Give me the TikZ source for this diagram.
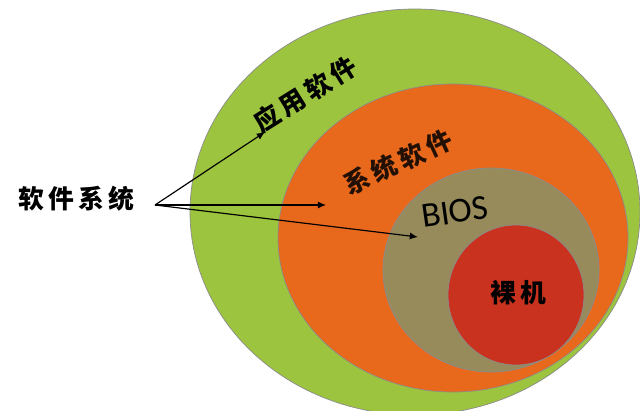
\documentclass[tikz,border=0pt]{standalone}
\usetikzlibrary{arrows.meta}
\usepackage{fontspec}
\newfontfamily\cjk{Noto Sans CJK SC}
\setmainfont{Carlito}
\definecolor{gr}{HTML}{9CC43E}
\definecolor{orn}{HTML}{E8681C}
\definecolor{olv}{HTML}{978B5C}
\definecolor{rd}{HTML}{C8321E}
\begin{document}
\begin{tikzpicture}[x=0.03cm,y=-0.03cm,
  ring/.style={draw=black!45,line width=0.6pt},
  lbl/.style={font=\cjk\fontsize{22}{24}\selectfont\bfseries},
  arr/.style={-{Latex[length=7pt,width=6pt]},line width=1pt}]
\useasboundingbox (0,0) rectangle (640,410);
\clip (0,0) rectangle (640,410);
\fill[white] (0,0) rectangle (640,410);
\draw[ring,fill=gr] (415,212) ellipse [x radius=225,y radius=203];
\draw[ring,fill=orn] (453,238) ellipse [x radius=175,y radius=154];
\draw[ring,fill=olv] (491,270) ellipse [x radius=108,y radius=102];
\draw[ring,fill=rd] (516,295) ellipse [x radius=68,y radius=70];
\node[lbl,rotate=32] (app) at (305,94) {应\,用\,软\,件};
\node[lbl,rotate=25,text=black!85!orn] (sys) at (398,162) {系\,统\,软\,件};
\node[font=\fontsize{30}{32}\selectfont,rotate=8] (bios) at (455,212) {BIOS};
\node[lbl] (bm) at (518,293) {裸\,机};
\node[lbl] (sw) at (76,199) {软\,件\,系\,统};
\coordinate (s) at (155,205);
\coordinate (a1) at (265,132);
\coordinate (a2) at (326,205);
\coordinate (a3) at (418,237);
\draw[arr] (s) -- (a1);
\draw[arr] (s) -- (a2);
\draw[arr] (s) -- (a3);
\end{tikzpicture}
\end{document}
